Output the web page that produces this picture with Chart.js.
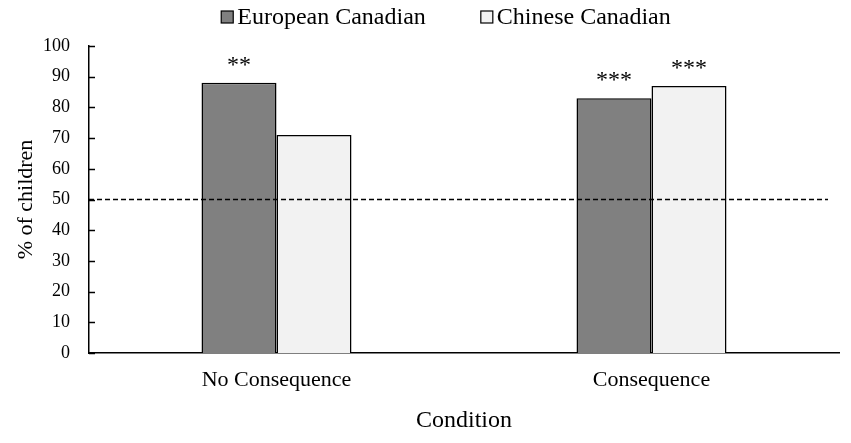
<!DOCTYPE html>
<html>
<head>
<meta charset="utf-8">
<script src="https://cdn.jsdelivr.net/npm/chart.js@4.4.0/dist/chart.umd.min.js"></script>
<style>
  html, body { margin: 0; padding: 0; background: #fff; }
  #wrap { width: 851px; height: 443px; }
</style>
</head>
<body>
<div id="wrap"><canvas id="chart" width="851" height="443"></canvas></div>
<script>
const categories = ['No Consequence', 'Consequence'];
const seriesNames = ['European Canadian', 'Chinese Canadian'];
const european = [88, 83];
const chinese = [71, 87];
const europeanStars = ['**', '***'];
const chineseStars = ['', '***'];
const chanceLevel = 50;

const SERIF = '"Liberation Serif", "Times New Roman", serif';

// legend drawn by hand so the boxes sit close to the text like the original
const legendPlugin = {
  id: 'topLegend',
  afterDraw(chart) {
    const ctx = chart.ctx;
    ctx.save();
    ctx.font = '24px ' + SERIF;
    ctx.textBaseline = 'middle';
    const box = 12, gapText = 4, gapItem = 55, y = 17;
    const items = chart.data.datasets.map(ds => ({
      label: ds.label, color: ds.backgroundColor,
      w: box + gapText + ctx.measureText(ds.label).width
    }));
    const total = items.reduce((s, it) => s + it.w, 0) + gapItem * (items.length - 1);
    let x = 446 - total / 2;
    items.forEach(it => {
      ctx.fillStyle = it.color;
      ctx.fillRect(x, y - box / 2, box, box);
      ctx.strokeStyle = '#000';
      ctx.lineWidth = 1.2;
      ctx.strokeRect(x, y - box / 2, box, box);
      ctx.fillStyle = '#000';
      ctx.fillText(it.label, x + box + gapText, y + 1);
      x += it.w + gapItem;
    });
    ctx.restore();
  }
};

// inward y ticks, dashed chance line and significance stars
const marksPlugin = {
  id: 'marks',
  afterDatasetsDraw(chart) {
    const ctx = chart.ctx;
    const area = chart.chartArea;
    const yScale = chart.scales.y;
    ctx.save();
    ctx.strokeStyle = '#000';
    ctx.lineWidth = 1.5;
    yScale.ticks.forEach(t => {
      const ty = Math.round(yScale.getPixelForValue(t.value)) + 0.5;
      ctx.beginPath();
      ctx.moveTo(area.left, ty);
      ctx.lineTo(area.left + 6, ty);
      ctx.stroke();
    });

    ctx.setLineDash([5, 3]);
    const y = yScale.getPixelForValue(chanceLevel);
    ctx.beginPath();
    ctx.moveTo(area.left, y);
    ctx.lineTo(area.right - 11, y);
    ctx.stroke();
    ctx.setLineDash([]);

    ctx.fillStyle = '#000';
    ctx.font = '24px ' + SERIF;
    ctx.textAlign = 'center';
    ctx.textBaseline = 'alphabetic';
    const stars = [europeanStars, chineseStars];
    chart.data.datasets.forEach((ds, i) => {
      chart.getDatasetMeta(i).data.forEach((bar, j) => {
        const s = stars[i][j];
        if (s) ctx.fillText(s, bar.x, bar.y - 11);
      });
    });
    ctx.restore();
  }
};

new Chart(document.getElementById('chart'), {
  type: 'bar',
  data: {
    labels: categories,
    datasets: [
      {
        label: seriesNames[0],
        data: european,
        backgroundColor: '#808080',
        borderColor: '#000',
        borderWidth: 1.5,
        borderSkipped: 'bottom'
      },
      {
        label: seriesNames[1],
        data: chinese,
        backgroundColor: '#f2f2f2',
        borderColor: '#000',
        borderWidth: 1.5,
        borderSkipped: 'bottom'
      }
    ]
  },
  options: {
    responsive: false,
    animation: false,
    layout: { padding: { top: 46, right: 12, left: 0, bottom: 0 } },
    datasets: { bar: { categoryPercentage: 0.4, barPercentage: 1.0 } },
    plugins: {
      legend: { display: false },
      tooltip: { enabled: false }
    },
    scales: {
      x: {
        grid: { display: false, drawTicks: false },
        border: { color: '#000', width: 1.5 },
        ticks: { color: '#000', font: { family: SERIF, size: 22 }, padding: 14 },
        title: {
          display: true, text: 'Condition', color: '#000',
          font: { family: SERIF, size: 24 }, padding: { top: 8, bottom: 8 }
        },
        afterFit(scale) { scale.height = 90; }
      },
      y: {
        min: 0, max: 100,
        grid: { display: false, drawTicks: false },
        border: { color: '#000', width: 1.5 },
        ticks: { stepSize: 10, color: '#000', font: { family: SERIF, size: 18 }, padding: 19 },
        title: {
          display: true, text: '% of children', color: '#000',
          font: { family: SERIF, size: 22 }, padding: { top: 13, bottom: 0 }
        },
        afterFit(scale) { scale.width = 89; }
      }
    }
  },
  plugins: [legendPlugin, marksPlugin]
});
</script>
</body>
</html>
